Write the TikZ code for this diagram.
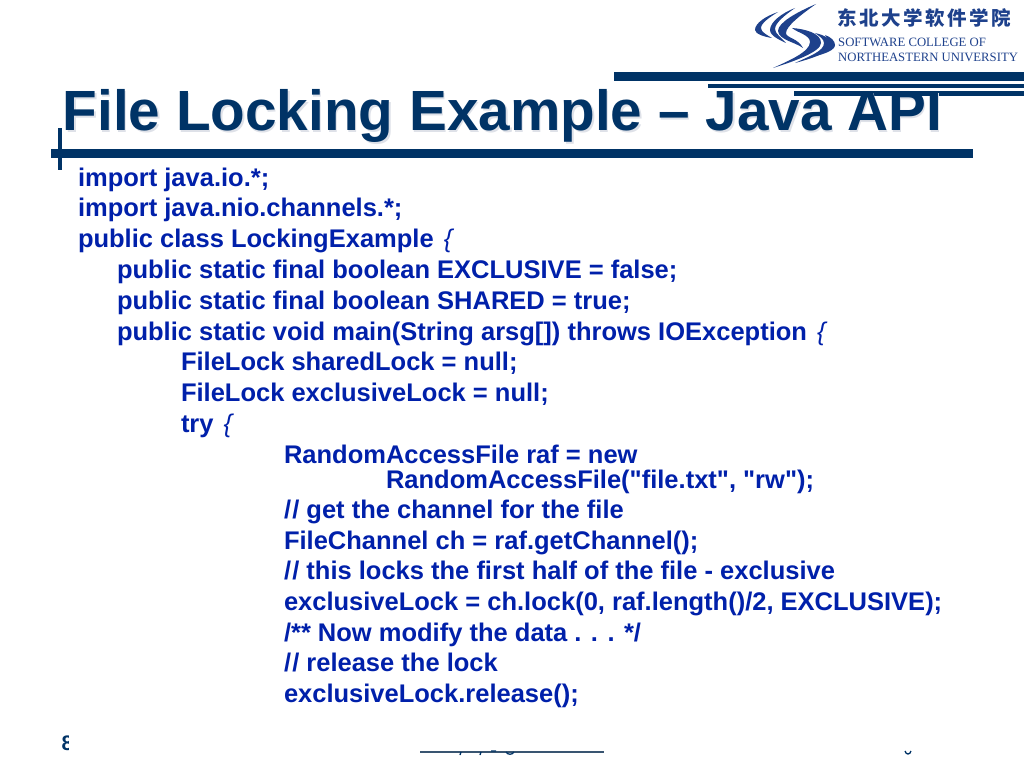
\documentclass[tikz,border=0pt]{standalone}
\usepackage{fontspec}
\setmainfont{Liberation Sans}
\newfontfamily\codefont{Liberation Sans}[Ligatures=ResetAll]
\newfontfamily\cjkfont{Noto Sans CJK SC}
\newfontfamily\seriffont{Liberation Serif}
\definecolor{navy}{RGB}{0,51,102}
\definecolor{codeblue}{RGB}{0,32,170}
\definecolor{logoblue}{RGB}{30,65,140}
\definecolor{shadowgrey}{RGB}{222,225,232}
\newcommand{\slashes}{/\kern1.2pt/}
\newcommand{\openbrace}{\kern3pt{\mdseries\itshape\{}}
\tikzset{
  x=1pt,y=-1pt,
  code/.style={anchor=base west,inner sep=0pt,outer sep=0pt,text=codeblue,font=\codefont\fontsize{25.5}{25.5}\selectfont\bfseries},
  titletext/.style={anchor=base west,inner sep=0pt,font=\fontsize{56.7}{56.7}\selectfont\bfseries},
  bar/.style={fill=navy,draw=none},
  swoosh/.style={fill=logoblue,draw=none},
  logotext/.style={anchor=base west,inner sep=0pt,text=logoblue,font=\seriffont\fontsize{12.72}{12.72}\selectfont}
}
\begin{document}
\begin{tikzpicture}
\useasboundingbox (0,0) rectangle (1024,768);
\fill[white] (0,0) rectangle (1024,768);
% logo: upper crescents
\fill[swoosh] (816,4) .. controls (795,13) and (778,23) .. (778,31) .. controls (779,40) and (795,42) .. (803,48) .. controls (798,38) and (786,38) .. (786,33) .. controls (786,26) and (802,14) .. (816,4) -- cycle;
\fill[swoosh] (795,8) .. controls (782,13) and (770,22) .. (770,30) .. controls (770,36) and (780,40) .. (786,43) .. controls (782,38) and (775,34) .. (775,29) .. controls (775,23) and (785,15) .. (795,8) -- cycle;
\fill[swoosh] (778,12) .. controls (766,16) and (755,23) .. (755,30) .. controls (755,34) and (765,37) .. (772,38) .. controls (767,35) and (761,32) .. (761,28) .. controls (761,23) and (770,17) .. (778,12) -- cycle;
% logo: lower crescents
\fill[swoosh] (773,68) .. controls (788,61) and (810,52) .. (810,42) .. controls (810,35) and (798,33) .. (792,28) .. controls (805,29) and (821,33) .. (821,43) .. controls (821,52) and (792,62) .. (773,68) -- cycle;
\fill[swoosh] (795,63) .. controls (810,56) and (824,51) .. (824,43) .. controls (824,39) and (819,36) .. (815,33) .. controls (824,35) and (832,39) .. (832,45) .. controls (832,52) and (810,59) .. (795,63) -- cycle;
\fill[swoosh] (815,56) .. controls (825,51) and (829,48) .. (829,44) .. controls (829,40) and (827,38) .. (825,35) .. controls (831,37) and (835,41) .. (835,45) .. controls (835,50) and (825,54) .. (815,56) -- cycle;
\node[anchor=center,inner sep=0pt,text=logoblue,font=\cjkfont\fontsize{19.5}{20}\selectfont\bfseries] (logocn) at (924,18) {东\hspace{2.5pt}北\hspace{2.5pt}大\hspace{2.5pt}学\hspace{2.5pt}软\hspace{2.5pt}件\hspace{2.5pt}学\hspace{2.5pt}院};
\node[logotext] (logoen1) at (838,47) {SOFTWARE COLLEGE OF};
\node[logotext] (logoen2) at (838,61) {NORTHEASTERN UNIVERSITY};
% bars
\fill[bar] (614,72) rectangle (1024,81);
\fill[bar] (708,83.5) rectangle (1024,87.5);
\fill[bar] (794,91) rectangle (1024,96);
\fill[bar] (51,149) rectangle (973,158);
\fill[bar] (58,128) rectangle (62,170);
% title
\node[titletext,text=shadowgrey] (titleshadow) at (64,132) {File Locking Example – Java API};
\node[titletext,text=navy] (title) at (62.5,130.5) {File Locking Example – Java API};
% code
\node[code] (l1) at (78,186) {import java.io.*;};
\node[code] (l2) at (78,216.5) {import java.nio.channels.*;};
\node[code] (l3) at (78,247.5) {public class LockingExample \openbrace};
\node[code] (l4) at (117,278.5) {public static final boolean EXCLUSIVE = false;};
\node[code] (l5) at (117,309) {public static final boolean SHARED = true;};
\node[code] (l6) at (117,340) {public static void main(String arsg[]) throws IOException \openbrace};
\node[code] (l7) at (181,370.5) {FileLock sharedLock = null;};
\node[code] (l8) at (181,401) {FileLock exclusiveLock = null;};
\node[code] (l9) at (181,432) {try \openbrace};
\node[code] (l10) at (284,463) {RandomAccessFile raf = new};
\node[code] (l11) at (386,488) {RandomAccessFile("file.txt", "rw");};
\node[code] (l12) at (284,518) {\slashes{} get the channel for the file};
\node[code] (l13) at (284,549) {FileChannel ch = raf.getChannel();};
\node[code] (l14) at (284,579.5) {\slashes{} this locks the first half of the file - exclusive};
\node[code] (l15) at (284,610) {exclusiveLock = ch.lock(0, raf.length()/2, EXCLUSIVE);};
\node[code] (l16) at (284,641) {/** Now modify the data . . . */};
\node[code] (l17) at (284,671.5) {\slashes{} release the lock};
\node[code] (l18) at (284,702) {exclusiveLock.release();};
% footer remnants
\begin{scope}
\clip (60,730) rectangle (68,752);
\node[anchor=base west,inner sep=0pt,text=navy,font=\fontsize{21}{21}\selectfont\bfseries] (pagea) at (61.5,750) {8};
\end{scope}
\fill[navy!55!gray] (420,751.2) rectangle (604,752.8);
\draw[navy,line width=1.3pt] (461,752) -- (460,755) (481,752) -- (480,755) (491,751) -- (496,751) (506,752) .. controls (508,755) and (512,755) .. (514,752);
\draw[navy,line width=1.3pt] (905,751) .. controls (906,755) and (910,755) .. (911,751);
\end{tikzpicture}
\end{document}
